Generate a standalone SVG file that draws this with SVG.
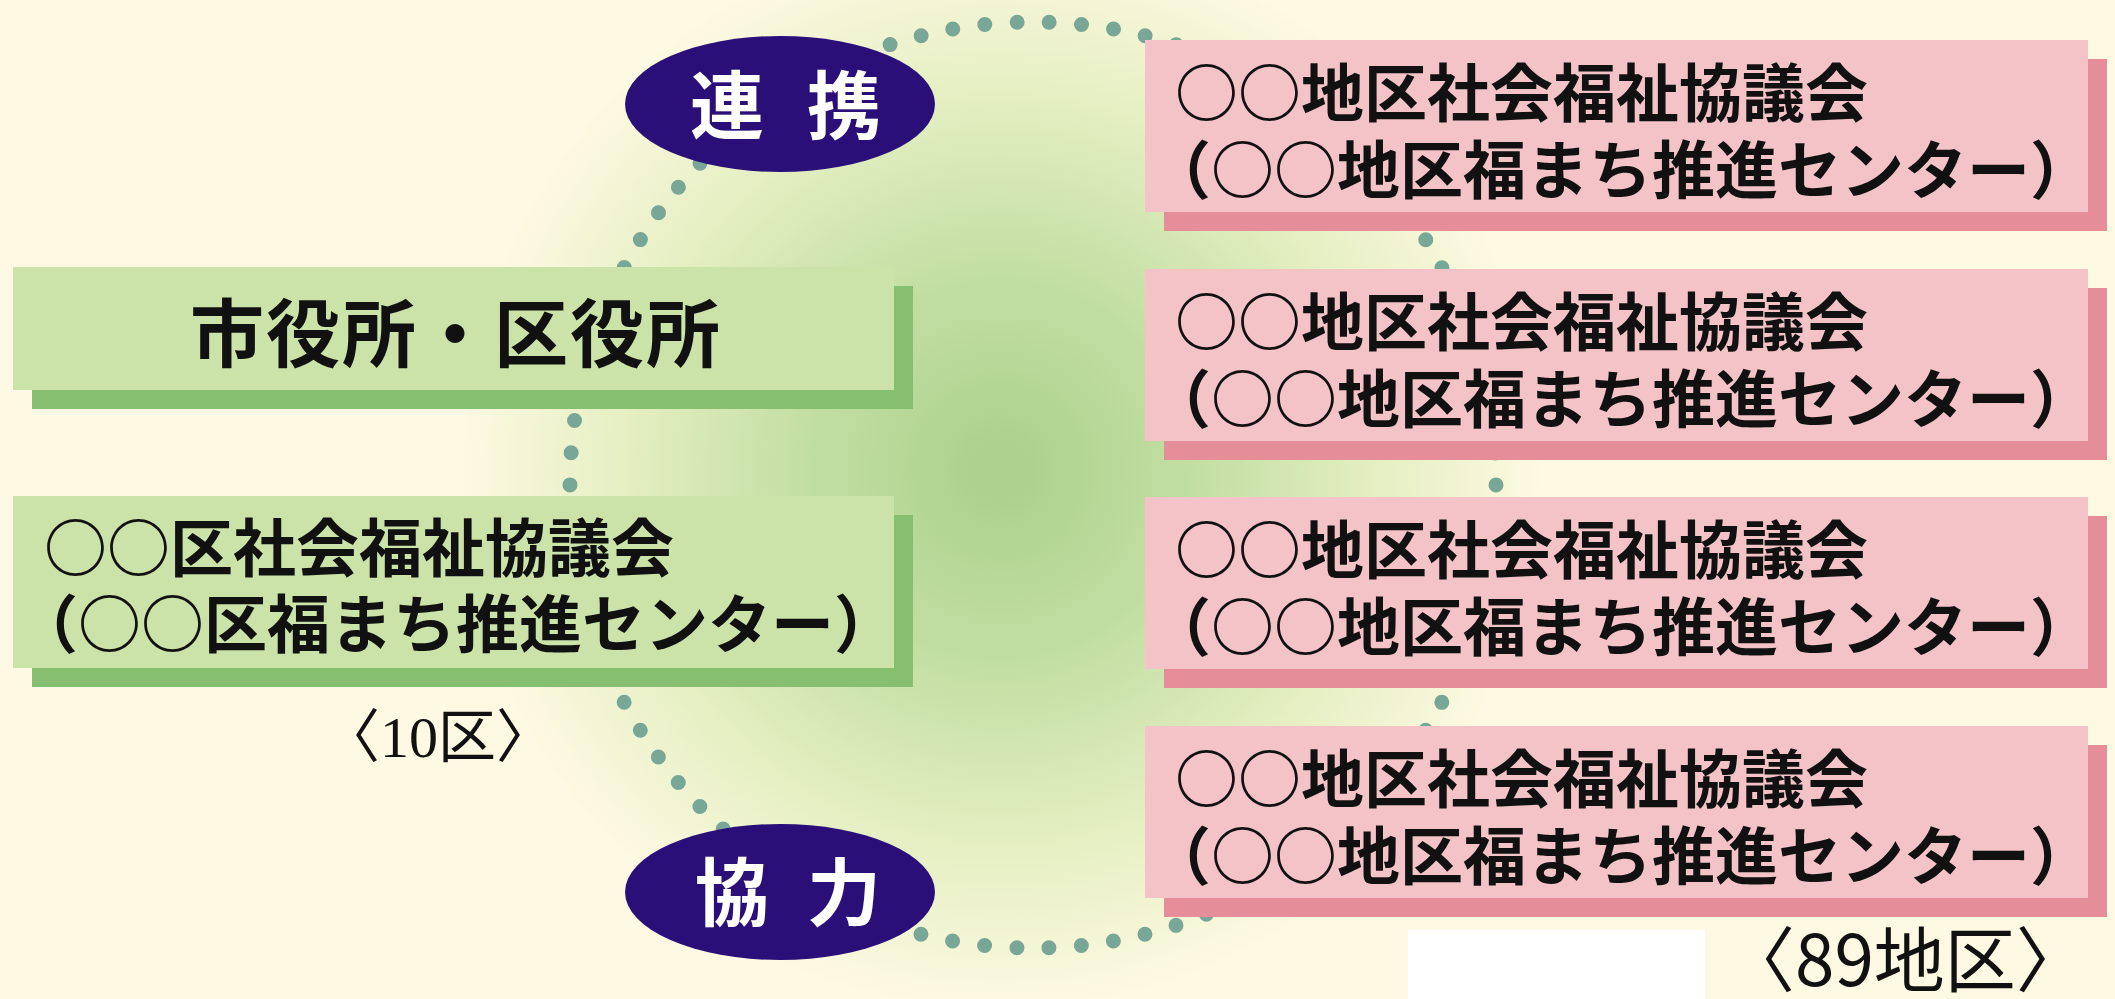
<svg xmlns="http://www.w3.org/2000/svg" width="2115" height="999" viewBox="0 0 2115 999">
<defs>
<radialGradient id="glow" gradientUnits="userSpaceOnUse" cx="1000" cy="470" r="540">
<stop offset="0" stop-color="#aad08a"/>
<stop offset="0.35" stop-color="#c1dea2"/>
<stop offset="0.7" stop-color="#e5efc2"/>
<stop offset="1" stop-color="#fdf9e2"/>
</radialGradient>
<style>
.t{font-family:"Noto Sans CJK JP","Noto Sans CJK SC",sans-serif;font-weight:700;fill:#111}
.g{fill:#cbe2a8}
.gs{fill:#86bf6f}
.p{fill:#f3c3c7}
.ps{fill:#e58e99}
.oval{fill:#2b0f78}
.w{font-family:"Noto Sans CJK JP",sans-serif;font-weight:700;fill:#fff;font-size:74px}
.dots{fill:none;stroke:#78a697;stroke-width:15;stroke-linecap:round}
</style>
</defs>
<rect x="0" y="0" width="2115" height="999" fill="#fdf9e2"/>
<rect x="0" y="0" width="2115" height="999" fill="url(#glow)"/>
<rect x="1408" y="930" width="297" height="69" fill="#ffffff"/>

<g id="connectors">
<circle class="dots" cx="1033" cy="485" r="463" stroke-dasharray="0 32.32"/>
</g>

<g id="node-shiyakusho">
<rect class="gs" x="32" y="286" width="881" height="123"/>
<rect class="g" x="13" y="267" width="881" height="123"/>
<text class="t" x="456" y="361" font-size="74" letter-spacing="2" text-anchor="middle">市役所・区役所</text>
</g>

<g id="node-ku-shakyo">
<rect class="gs" x="32" y="515" width="881" height="172"/>
<rect class="g" x="13" y="496" width="881" height="172"/>
<text class="t" font-size="63" x="44" y="571">○○区社会福祉協議会</text>
<text class="t" font-size="63" x="15" y="647">（○○区福まち推進センター）</text>
</g>

<g id="node-chiku-1">
<rect class="ps" x="1164" y="59" width="943" height="172"/>
<rect class="p" x="1145" y="40" width="943" height="172"/>
<text class="t" font-size="63" x="1175" y="116">○○地区社会福祉協議会</text>
<text class="t" font-size="63" x="1148" y="193">（○○地区福まち推進センター）</text>
</g>

<g id="node-chiku-2">
<rect class="ps" x="1164" y="288" width="943" height="172"/>
<rect class="p" x="1145" y="269" width="943" height="172"/>
<text class="t" font-size="63" x="1175" y="345">○○地区社会福祉協議会</text>
<text class="t" font-size="63" x="1148" y="422">（○○地区福まち推進センター）</text>
</g>

<g id="node-chiku-3">
<rect class="ps" x="1164" y="516" width="943" height="172"/>
<rect class="p" x="1145" y="497" width="943" height="172"/>
<text class="t" font-size="63" x="1175" y="573">○○地区社会福祉協議会</text>
<text class="t" font-size="63" x="1148" y="650">（○○地区福まち推進センター）</text>
</g>

<g id="node-chiku-4">
<rect class="ps" x="1164" y="745" width="943" height="172"/>
<rect class="p" x="1145" y="726" width="943" height="172"/>
<text class="t" font-size="63" x="1175" y="802">○○地区社会福祉協議会</text>
<text class="t" font-size="63" x="1148" y="879">（○○地区福まち推進センター）</text>
</g>

<g id="label-renkei">
<ellipse class="oval" cx="780" cy="104" rx="155" ry="68"/>
<text class="w" y="133"><tspan x="690">連</tspan><tspan x="807">携</tspan></text>
</g>

<g id="label-kyoryoku">
<ellipse class="oval" cx="780" cy="892" rx="155" ry="68"/>
<text class="w" y="920"><tspan x="695">協</tspan><tspan x="807">力</tspan></text>
</g>

<g id="note-10ku">
<text x="322" y="757" font-size="58" fill="#111" font-family="'Liberation Serif','Noto Sans CJK JP',serif">〈10区〉</text>
</g>

<g id="note-89chiku">
<text x="1724" y="986" font-size="71" fill="#111" font-family="'Noto Sans CJK JP',sans-serif">〈89地区〉</text>
</g>
</svg>
